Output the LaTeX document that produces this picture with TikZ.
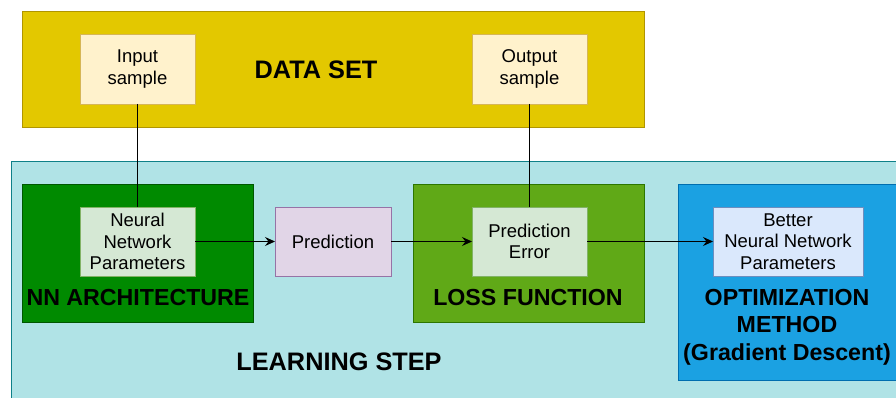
\documentclass[tikz,border=0pt]{standalone}
\usepackage{fontspec}
\setmainfont{Liberation Sans}
\usetikzlibrary{arrows.meta}
\definecolor{dsfill}{HTML}{E3C800}
\definecolor{dsline}{HTML}{B09500}
\definecolor{smfill}{HTML}{FFF2CC}
\definecolor{smline}{HTML}{D6B656}
\definecolor{lsfill}{HTML}{B0E3E6}
\definecolor{lsline}{HTML}{0E8088}
\definecolor{nnfill}{HTML}{008A00}
\definecolor{nnline}{HTML}{005700}
\definecolor{gfill}{HTML}{D5E8D4}
\definecolor{gline}{HTML}{82B366}
\definecolor{pfill}{HTML}{E1D5E7}
\definecolor{pline}{HTML}{9673A6}
\definecolor{lffill}{HTML}{60A917}
\definecolor{lfline}{HTML}{2D7600}
\definecolor{opfill}{HTML}{1BA1E2}
\definecolor{opline}{HTML}{006EAF}
\definecolor{bfill}{HTML}{DAE8FC}
\definecolor{bline}{HTML}{6C8EBF}
\tikzset{
  box/.style={draw, line width=0.8pt, inner sep=0pt, outer sep=0pt},
  smalltxt/.style={align=center, font=\fontsize{18.5}{21.7}\selectfont},
  bigtxt/.style={align=center, font=\fontsize{23.2}{27.5}\selectfont\bfseries},
  hugetxt/.style={align=center, font=\fontsize{25.3}{30}\selectfont\bfseries},
  conn/.style={line width=1pt, black},
  arr/.style={conn, -{Stealth[length=10pt, width=9pt, inset=3.5pt]}},
}
\begin{document}
\begin{tikzpicture}[x=1pt, y=-1pt]
\useasboundingbox (0,0) rectangle (896,398);
% containers
\filldraw[box, fill=dsfill, draw=dsline] (22,11) rectangle (644,127);
\filldraw[box, fill=lsfill, draw=lsline] (11,161) rectangle (905,410);
\filldraw[box, fill=nnfill, draw=nnline] (22,184) rectangle (253,322);
\filldraw[box, fill=lffill, draw=lfline] (413,184) rectangle (644,322);
\filldraw[box, fill=opfill, draw=opline] (678,184) rectangle (905,380);
% inner nodes
\node[box, fill=smfill, draw=smline, smalltxt, minimum width=115pt, minimum height=70pt] (in) at (137.5,69) {Input\\sample};
\node[box, fill=smfill, draw=smline, smalltxt, minimum width=115pt, minimum height=70pt] (out) at (529.5,69) {Output\\sample};
\node[box, fill=gfill, draw=gline, smalltxt, minimum width=115pt, minimum height=69pt] (nnp) at (137.5,241.5) {Neural\\Network\\Parameters};
\node[box, fill=pfill, draw=pline, smalltxt, minimum width=116pt, minimum height=69pt] (pred) at (333,241.5) {Prediction};
\node[box, fill=gfill, draw=gline, smalltxt, minimum width=115pt, minimum height=69pt] (perr) at (529.5,241.5) {Prediction\\Error};
\node[box, fill=bfill, draw=bline, smalltxt, minimum width=150pt, minimum height=69pt] (bnn) at (788,241.5) {Better\\Neural Network\\Parameters};
% titles
\node[hugetxt] (tds) at (316,70) {DATA SET};
\node[bigtxt] (tnn) at (138,298) {NN ARCHITECTURE};
\node[bigtxt] (tlf) at (528,298) {LOSS FUNCTION};
\node[bigtxt] (top) at (787,327) {OPTIMIZATION\\METHOD\\(Gradient Descent)};
\node[hugetxt] (tls) at (339,362) {LEARNING STEP};
% connectors
\draw[conn] (in.south) -- (nnp.north);
\draw[conn] (out.south) -- (perr.north);
\draw[arr] (nnp.east) -- (pred.west);
\draw[arr] (pred.east) -- (perr.west);
\draw[arr] (perr.east) -- (bnn.west);
\end{tikzpicture}
\end{document}
